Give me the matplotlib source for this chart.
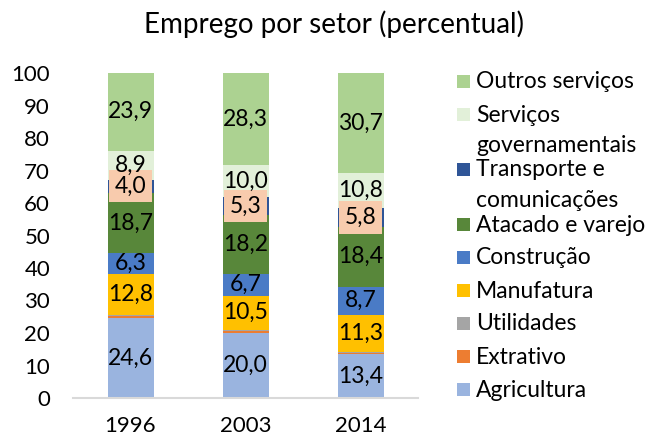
import numpy as np
import matplotlib.pyplot as plt
from matplotlib.patches import Rectangle

plt.rcParams['font.family'] = ['Lato', 'DejaVu Sans']

# dados (percentual do emprego por setor)
anos = ["1996", "2003", "2014"]
setores = ["Agricultura", "Extrativo", "Utilidades", "Manufatura", "Construção",
           "Atacado e varejo", "Transporte e\ncomunicações", "Serviços\ngovernamentais",
           "Outros serviços"]
agricultura = [24.6, 20.0, 13.4]
extrativo = [0.5, 0.5, 0.5]
utilidades = [0.3, 0.5, 0.4]
manufatura = [12.8, 10.5, 11.3]
construcao = [6.3, 6.7, 8.7]
atacado = [18.7, 18.2, 18.4]
transporte = [4.0, 5.3, 5.8]
servicos_gov = [8.9, 10.0, 10.8]
outros = [23.9, 28.3, 30.7]

series = [agricultura, extrativo, utilidades, manufatura, construcao,
          atacado, transporte, servicos_gov, outros]
cores = ["#9ab4df", "#ed7d31", "#a5a5a5", "#ffc000", "#4a7bc6",
         "#58873a", "#2f5597", "#e2f0d9", "#acd291"]
com_rotulo = [True, False, False, True, True, True, True, True, True]

fig = plt.figure(figsize=(6.67, 4.44), dpi=100)
ax = fig.add_axes([73 / 667, 1 - 398 / 444, 345 / 667, 325 / 444])

x = np.arange(len(anos))
base = np.zeros(len(anos))
for i, (vals, cor) in enumerate(zip(series, cores)):
    vals = np.array(vals)
    ax.bar(x, vals, bottom=base, width=0.4, color=cor, edgecolor='none')
    if com_rotulo[i]:
        for xi, b, v in zip(x, base, vals):
            txt = f"{v:.1f}".replace(".", ",")
            kw = {}
            if setores[i].startswith("Transporte"):
                kw['bbox'] = dict(boxstyle='square,pad=0.25', fc='#f8cbad', ec='none')
            ax.text(xi, b + v / 2, txt, ha='center', va='center', fontsize=16.5, **kw)
    base += vals

ax.set_xlim(-0.5, 2.5)
ax.set_ylim(0, 100)
ax.set_yticks(range(0, 101, 10))
ax.set_xticks(x)
ax.set_xticklabels(anos)
ax.tick_params(axis='both', length=0, labelsize=16)
ax.tick_params(axis='y', pad=16.5)
ax.tick_params(axis='x', pad=13)
for s in ['top', 'right', 'left']:
    ax.spines[s].set_visible(False)
ax.spines['bottom'].set_color('#d9d9d9')
ax.spines['bottom'].set_linewidth(1.5)

fig.text(0.5, 1 - 24 / 444, "Emprego por setor (percentual)", ha='center', va='center', fontsize=20)

# legenda manual (ordem inversa)
y = 82
for nome, cor in zip(setores[::-1], cores[::-1]):
    linhas = nome.split("\n")
    fig.patches.append(Rectangle((457 / 667, 1 - (y + 6) / 444), 13 / 667, 13 / 444,
                                 transform=fig.transFigure, facecolor=cor, edgecolor='none'))
    for k, ln in enumerate(linhas):
        fig.text(476 / 667, 1 - (y + 30 * k) / 444, ln, ha='left', va='center', fontsize=16.5)
    y += 33 + 22 * (len(linhas) - 1)

fig.savefig("out.png", dpi=100)
